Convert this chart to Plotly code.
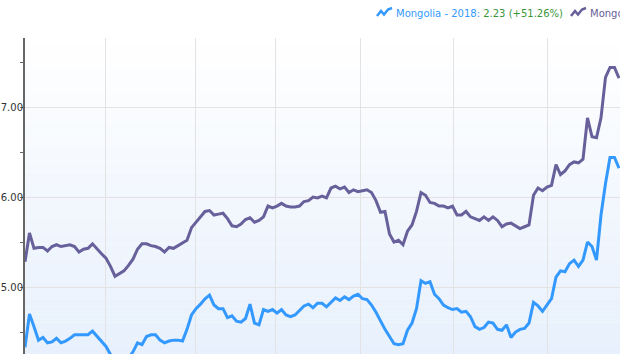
import plotly.graph_objects as go

# ---- data ----
purple = [5.28, 5.60, 5.43, 5.44, 5.44, 5.40, 5.45, 5.47, 5.45, 5.46,
          5.47, 5.45, 5.39, 5.42, 5.43, 5.48, 5.42, 5.37, 5.32, 5.23,
          5.12, 5.15, 5.18, 5.24, 5.31, 5.42, 5.48, 5.48, 5.46, 5.45,
          5.43, 5.39, 5.44, 5.43, 5.46, 5.49, 5.52, 5.66, 5.72, 5.78,
          5.84, 5.85, 5.80, 5.81, 5.82, 5.76, 5.68, 5.67, 5.70, 5.75,
          5.77, 5.72, 5.74, 5.78, 5.90, 5.88, 5.90, 5.93, 5.90, 5.89,
          5.89, 5.90, 5.95, 5.96, 6.00, 5.99, 6.01, 5.99, 6.10, 6.12,
          6.09, 6.11, 6.05, 6.08, 6.06, 6.07, 6.08, 6.05, 5.96, 5.83,
          5.84, 5.59, 5.50, 5.52, 5.47, 5.62, 5.69, 5.84, 6.05, 6.02,
          5.94, 5.93, 5.90, 5.90, 5.88, 5.90, 5.80, 5.80, 5.84, 5.78,
          5.76, 5.74, 5.78, 5.74, 5.78, 5.74, 5.67, 5.70, 5.71, 5.68,
          5.65, 5.67, 5.69, 6.02, 6.10, 6.07, 6.11, 6.13, 6.36, 6.25,
          6.29, 6.36, 6.39, 6.38, 6.42, 6.88, 6.67, 6.66, 6.88, 7.33,
          7.44, 7.44, 7.32]

blue = [4.33, 4.70, 4.56, 4.41, 4.44, 4.38, 4.39, 4.43, 4.38, 4.40,
        4.43, 4.47, 4.47, 4.47, 4.47, 4.51, 4.45, 4.40, 4.34, 4.25,
        4.18, 4.14, 4.16, 4.21, 4.28, 4.38, 4.36, 4.45, 4.47, 4.47,
        4.41, 4.38, 4.40, 4.41, 4.41, 4.40, 4.53, 4.69, 4.76, 4.81,
        4.87, 4.91, 4.80, 4.76, 4.76, 4.66, 4.68, 4.62, 4.61, 4.65,
        4.81, 4.60, 4.58, 4.75, 4.73, 4.75, 4.71, 4.75, 4.69, 4.67,
        4.69, 4.74, 4.79, 4.81, 4.77, 4.82, 4.82, 4.78, 4.83, 4.88,
        4.85, 4.89, 4.86, 4.90, 4.92, 4.87, 4.86, 4.80, 4.72, 4.62,
        4.53, 4.45, 4.37, 4.36, 4.37, 4.52, 4.60, 4.76, 5.07, 5.04,
        5.06, 4.92, 4.87, 4.80, 4.77, 4.75, 4.76, 4.72, 4.73, 4.67,
        4.56, 4.53, 4.55, 4.61, 4.60, 4.53, 4.52, 4.58, 4.44, 4.50,
        4.53, 4.54, 4.60, 4.83, 4.79, 4.73, 4.80, 4.87, 5.11, 5.18,
        5.17, 5.26, 5.30, 5.23, 5.30, 5.50, 5.45, 5.30, 5.80, 6.15,
        6.44, 6.44, 6.32]

periods = list(range(len(purple)))
y_ticks = [5.0, 6.0, 7.0]
y_tick_labels = ["5.00", "6.00", "7.00"]
x_grid = [17.8, 37.9, 55.7, 74.6, 95.3, 116.1]

blue_name = "Mongolia - 2018: "
blue_value = "2.23 (+51.26%)"
purple_name = "Mongolia - 2017: 1.47 (+38.10%)"

BLUE = "#3399ff"
PURPLE = "#67609a"
GREEN = "#3a963a"
FONT = "DejaVu Sans"

W, H = 620, 354
L, T = 25, 38
PW, PH = W - L, H - T


def px(x):
    return (x - L) / PW


def py(y):
    return (H - y) / PH


fig = go.Figure()
fig.add_trace(go.Scatter(x=periods, y=purple, mode="lines",
                         line=dict(color=PURPLE, width=3), name="purple"))
fig.add_trace(go.Scatter(x=periods, y=blue, mode="lines",
                         line=dict(color=BLUE, width=3), name="blue"))

shapes = []
# background gradient (white -> light blue)
n = 40
top = (255, 255, 255)
bot = (231, 240, 252)
for k in range(n):
    f = (k + 0.5) / n
    c = tuple(round(top[j] + (bot[j] - top[j]) * f) for j in range(3))
    shapes.append(dict(type="rect", xref="paper", yref="paper",
                       x0=0, x1=1, y0=1 - (k + 1) / n, y1=1 - k / n,
                       fillcolor="rgb(%d,%d,%d)" % c, line=dict(width=0),
                       layer="below"))


def icon(x0, color):
    pts = [(x0, 16), (x0 + 4, 11), (x0 + 7, 14.5), (x0 + 11, 9.5), (x0 + 15, 8)]
    d = "M " + " L ".join("%f,%f" % (px(a), py(b)) for a, b in pts)
    return dict(type="path", xref="paper", yref="paper", path=d,
                line=dict(color=color, width=2.5))


shapes.append(icon(377, BLUE))
shapes.append(icon(571, PURPLE))

annotations = [
    dict(xref="paper", yref="paper", x=px(394), y=py(13), xanchor="left",
         yanchor="middle", showarrow=False,
         text="<span style='color:%s'>%s</span><span style='color:%s'>%s</span>"
              % (BLUE, blue_name, GREEN, blue_value),
         font=dict(family=FONT, size=10)),
    dict(xref="paper", yref="paper", x=px(588), y=py(13), xanchor="left",
         yanchor="middle", showarrow=False, text=purple_name,
         font=dict(family=FONT, size=10, color=PURPLE)),
]

fig.update_layout(
    width=W, height=H,
    margin=dict(l=L, r=0, t=T, b=0, pad=0),
    paper_bgcolor="white", plot_bgcolor="white",
    showlegend=False,
    shapes=shapes, annotations=annotations,
    font=dict(family=FONT, size=10, color="#333333"),
    xaxis=dict(range=[0, PW / 4.5], tickvals=x_grid, showticklabels=False,
               showgrid=True, gridcolor="#e3e3e3", gridwidth=1,
               zeroline=False, showline=False, ticks=""),
    yaxis=dict(range=[4.256, 7.767], tickvals=y_ticks, ticktext=y_tick_labels,
               showgrid=True, gridcolor="#e3e3e3", gridwidth=1,
               zeroline=False, showline=True, linecolor="#666666", linewidth=2,
               ticks="outside", ticklen=3, tickcolor="#666666", tickwidth=1,
               ticklabelstandoff=-5,
               minor=dict(tickvals=[4.5, 5.5, 6.5, 7.5], ticks="outside",
                          ticklen=3, tickcolor="#666666", showgrid=False),
               automargin=False,
               tickfont=dict(family=FONT, size=10, color="#333333")),
)

fig.write_html("out.html")
